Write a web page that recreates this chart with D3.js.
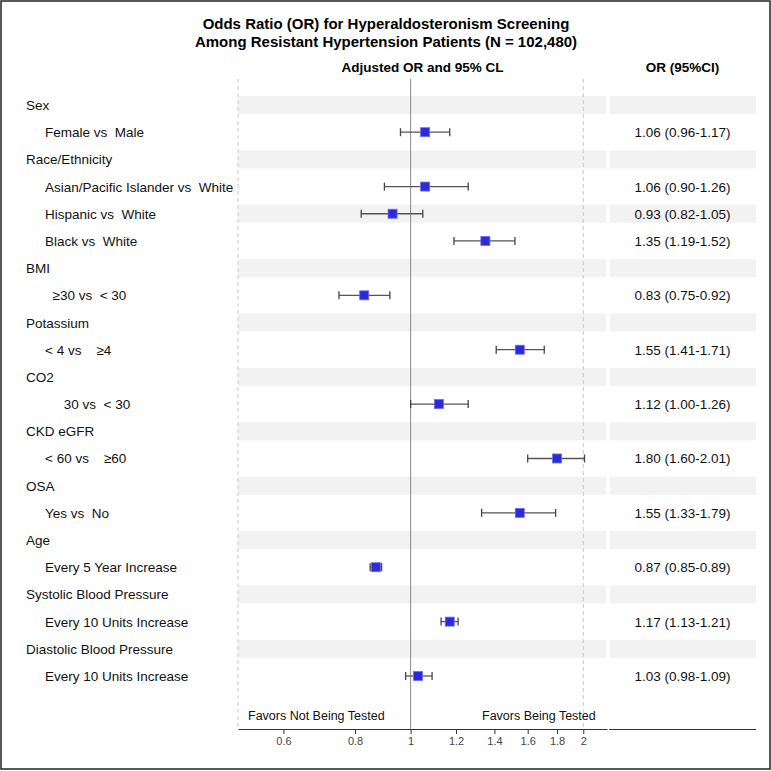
<!DOCTYPE html>
<html>
<head>
<meta charset="utf-8">
<script src="https://cdn.jsdelivr.net/npm/d3@7"></script>
<style>
  body { margin: 0; background: #fff; }
  svg text { font-family: "Liberation Sans", Arial, sans-serif; white-space: pre; }
</style>
</head>
<body>
<svg id="chart" width="771" height="771"></svg>
<script>
// rows of the forest plot, top to bottom
const labels = [
    "Sex", "Female vs  Male",
    "Race/Ethnicity", "Asian/Pacific Islander vs  White", "Hispanic vs  White", "Black vs  White",
    "BMI", "  \u226530 vs  < 30",
    "Potassium", "< 4 vs    \u22654",
    "CO2", "     30 vs  < 30",
    "CKD eGFR", "< 60 vs    \u226560",
    "OSA", "Yes vs  No",
    "Age", "Every 5 Year Increase",
    "Systolic Blood Pressure", "Every 10 Units Increase",
    "Diastolic Blood Pressure", "Every 10 Units Increase"
];
const level = [0, 1, 0, 1, 1, 1, 0, 1, 0, 1, 0, 1, 0, 1, 0, 1, 0, 1, 0, 1, 0, 1];
const orVal = [null, 1.06, null, 1.06, 0.93, 1.35, null, 0.83, null, 1.55, null, 1.12, null, 1.80, null, 1.55, null, 0.87, null, 1.17, null, 1.03];
const loVal = [null, 0.96, null, 0.90, 0.82, 1.19, null, 0.75, null, 1.41, null, 1.00, null, 1.60, null, 1.33, null, 0.85, null, 1.13, null, 0.98];
const hiVal = [null, 1.17, null, 1.26, 1.05, 1.52, null, 0.92, null, 1.71, null, 1.26, null, 2.01, null, 1.79, null, 0.89, null, 1.21, null, 1.09];
const tickVals = [0.6, 0.8, 1, 1.2, 1.4, 1.6, 1.8, 2];

let svg = d3.select("#chart");

let plotLeft = 238, plotRight = 607;
let colLeft = 609, colRight = 756;
let axisY = 729;
let topY = 79;

let x = d3.scaleLog().domain([0.5, 2.2]).range([plotLeft, plotRight]);
let y = d3.scalePoint().domain(d3.range(labels.length)).range([105, 676]);

let rows = labels.map((label, i) => ({
    label: label, level: level[i], or: orVal[i], lo: loVal[i], hi: hiVal[i], i: i
}));

// alternating bands
let bandH = 18;
rows.filter(d => d.i % 2 === 0).forEach(d => {
    svg.append("rect")
        .attr("x", plotLeft).attr("y", y(d.i) - bandH / 2)
        .attr("width", plotRight - plotLeft - 1).attr("height", bandH)
        .attr("fill", "#f2f2f2");
    svg.append("rect")
        .attr("x", colLeft + 1).attr("y", y(d.i) - bandH / 2)
        .attr("width", colRight - colLeft - 1).attr("height", bandH)
        .attr("fill", "#f2f2f2");
});

// reference lines
[0.5, 2].forEach(v => {
    svg.append("line")
        .attr("x1", x(v)).attr("x2", x(v))
        .attr("y1", topY).attr("y2", axisY)
        .attr("stroke", "#c8c8c8")
        .attr("stroke-dasharray", "4,3");
});
svg.append("line")
    .attr("x1", x(1)).attr("x2", x(1))
    .attr("y1", topY).attr("y2", axisY)
    .attr("stroke", "#8a8a8a");

// labels on the left
svg.selectAll(".rowlabel")
    .data(rows)
    .enter().append("text")
    .attr("class", "rowlabel")
    .attr("x", d => d.level === 0 ? 26 : 45)
    .attr("y", d => y(d.i) + 5)
    .attr("font-size", "13.5px")
    .attr("fill", "#111")
    .text(d => d.label);

let est = rows.filter(d => d.or !== null);

// whiskers
let capH = 8;
est.forEach(d => {
    let cy = y(d.i);
    svg.append("line")
        .attr("x1", x(d.lo)).attr("x2", x(d.hi))
        .attr("y1", cy).attr("y2", cy)
        .attr("stroke", "#555").attr("stroke-width", 1.3);
    [d.lo, d.hi].forEach(v => {
        svg.append("line")
            .attr("x1", x(v)).attr("x2", x(v))
            .attr("y1", cy - capH / 2).attr("y2", cy + capH / 2)
            .attr("stroke", "#444").attr("stroke-width", 1.3);
    });
});

// markers
let ms = 9;
svg.selectAll(".marker")
    .data(est)
    .enter().append("rect")
    .attr("class", "marker")
    .attr("x", d => x(d.or) - ms / 2)
    .attr("y", d => y(d.i) - ms / 2)
    .attr("width", ms).attr("height", ms)
    .attr("fill", "#2a2ade")
    .attr("stroke", "#6b6bec").attr("stroke-width", 0.8);

// OR (95%CI) column
svg.selectAll(".ortext")
    .data(est)
    .enter().append("text")
    .attr("class", "ortext")
    .attr("x", (colLeft + colRight) / 2)
    .attr("y", d => y(d.i) + 5)
    .attr("text-anchor", "middle")
    .attr("font-size", "13.5px")
    .attr("fill", "#111")
    .text(d => `${d.or.toFixed(2)} (${d.lo.toFixed(2)}-${d.hi.toFixed(2)})`);

// axis
let axis = d3.axisBottom(x)
    .tickValues(tickVals)
    .tickFormat(d3.format(""))
    .tickSizeInner(5)
    .tickSizeOuter(0);
let gAxis = svg.append("g")
    .attr("transform", `translate(0,${axisY})`)
    .call(axis);
gAxis.select(".domain").attr("stroke", "#333");
gAxis.selectAll(".tick line").attr("stroke", "#333");
gAxis.selectAll(".tick text")
    .attr("font-size", "11px")
    .attr("fill", "#444")
    .attr("font-family", "Liberation Sans, Arial, sans-serif");
svg.append("line")
    .attr("x1", colLeft).attr("x2", colRight)
    .attr("y1", axisY + 0.5).attr("y2", axisY + 0.5)
    .attr("stroke", "#333");

svg.append("text")
    .attr("x", plotLeft + 10).attr("y", 720)
    .attr("font-size", "12.5px").attr("fill", "#111")
    .text("Favors Not Being Tested");
svg.append("text")
    .attr("x", 482).attr("y", 720)
    .attr("font-size", "12.5px").attr("fill", "#111")
    .text("Favors Being Tested");

// titles and headers
svg.append("text")
    .attr("x", 386).attr("y", 29)
    .attr("text-anchor", "middle")
    .attr("font-size", "15px").attr("font-weight", "bold")
    .text("Odds Ratio (OR) for Hyperaldosteronism Screening");
svg.append("text")
    .attr("x", 386).attr("y", 47)
    .attr("text-anchor", "middle")
    .attr("font-size", "15px").attr("font-weight", "bold")
    .text("Among Resistant Hypertension Patients (N = 102,480)");
svg.append("text")
    .attr("x", (plotLeft + plotRight) / 2).attr("y", 72)
    .attr("text-anchor", "middle")
    .attr("font-size", "13.5px").attr("font-weight", "bold")
    .text("Adjusted OR and 95% CL");
svg.append("text")
    .attr("x", (colLeft + colRight) / 2).attr("y", 72)
    .attr("text-anchor", "middle")
    .attr("font-size", "13.5px").attr("font-weight", "bold")
    .text("OR (95%CI)");

// outer border
svg.append("rect")
    .attr("x", 1).attr("y", 1)
    .attr("width", 769).attr("height", 768)
    .attr("fill", "none")
    .attr("stroke", "#222").attr("stroke-width", 1.5);
</script>
</body>
</html>
